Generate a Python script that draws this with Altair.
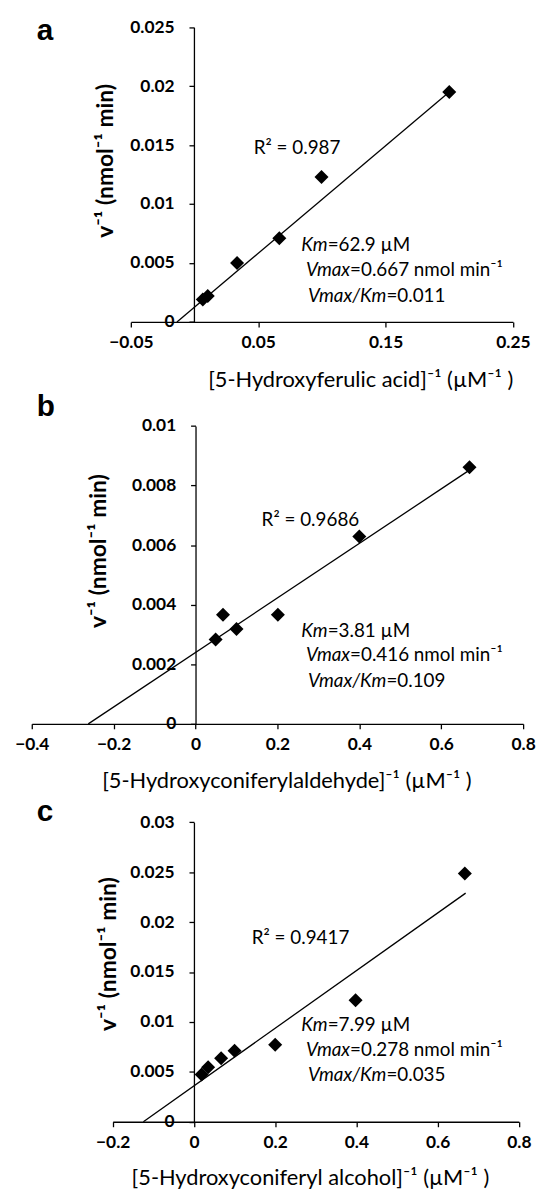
import altair as alt
import pandas as pd

# ---------------- data ----------------
# panel a : 5-hydroxyferulic acid
a_x = [0.0065, 0.0104, 0.0334, 0.0666, 0.0997, 0.2000]
a_y = [0.0019, 0.0022, 0.0050, 0.0071, 0.0123, 0.0195]
a_fit_x = [-0.0138, 0.2000]
a_fit_y = [0.0, 0.0195]
a_xticks = [-0.05, 0.05, 0.15, 0.25]
a_yticks = [0, 0.005, 0.01, 0.015, 0.02, 0.025]

# panel b : 5-hydroxyconiferylaldehyde
b_x = [0.049, 0.067, 0.100, 0.201, 0.400, 0.669]
b_y = [0.00283, 0.00366, 0.00318, 0.00366, 0.00629, 0.00861]
b_fit_x = [-0.262, 0.667]
b_fit_y = [0.0, 0.0085]
b_xticks = [-0.4, -0.2, 0, 0.2, 0.4, 0.6, 0.8]
b_yticks = [0, 0.002, 0.004, 0.006, 0.008, 0.01]

# panel c : 5-hydroxyconiferyl alcohol
c_x = [0.019, 0.035, 0.067, 0.100, 0.200, 0.398, 0.667]
c_y = [0.00473, 0.00546, 0.00635, 0.00711, 0.00771, 0.01217, 0.02487]
c_fit_x = [-0.1245, 0.669]
c_fit_y = [0.0, 0.0229]
c_xticks = [-0.2, 0, 0.2, 0.4, 0.6, 0.8]
c_yticks = [0, 0.005, 0.01, 0.015, 0.02, 0.025, 0.03]

letters = ["a", "b", "c"]
r2_labels = ["R\u00b2 = 0.987", "R\u00b2 = 0.9686", "R\u00b2 = 0.9417"]
km_vals = ["=62.9 \u00b5M", "=3.81 \u00b5M", "=7.99 \u00b5M"]
vmax_vals = ["=0.667 nmol min\u207b\u00b9", "=0.416 nmol min\u207b\u00b9", "=0.278 nmol min\u207b\u00b9"]
ratio_vals = ["=0.011", "=0.109", "=0.035"]
x_titles = [
    "[5-Hydroxyferulic acid]\u207b\u00b9  (\u00b5M\u207b\u00b9 )",
    "[5-Hydroxyconiferylaldehyde]\u207b\u00b9  (\u00b5M\u207b\u00b9 )",
    "[5-Hydroxyconiferyl alcohol]\u207b\u00b9 (\u00b5M\u207b\u00b9 )",
]
y_title = "v\u207b\u00b9 (nmol\u207b\u00b9 min)"

FONT = "Lato"
FS = 17.5      # tick labels
XTS = 22       # x axis titles
YTS = 23       # y axis titles
AS = 19        # annotations
W = 528
DUMMY = pd.DataFrame({"d": [0]})


def txt(text, x, y, align="left", style="normal", weight="normal",
        size=AS, font=FONT, baseline="alphabetic", angle=0):
    return alt.Chart(DUMMY).mark_text(
        text=text, align=align, baseline=baseline, font=font,
        fontSize=size, fontStyle=style, fontWeight=weight, color="black",
        angle=angle
    ).encode(x=alt.value(x), y=alt.value(y))


def axis(values, offset, pad, baseline=None):
    kw = dict(
        values=values, format=".3~f", title=None, offset=offset,
        grid=False, labelFlush=False, labelOverlap=False,
        labelPadding=pad,
        labelFont=FONT, labelFontSize=FS, labelFontWeight="bold",
        labelColor="black",
        tickSize=5, tickColor="black", tickWidth=1.3,
        domainColor="black", domainWidth=1.3,
    )
    if baseline:
        kw["labelBaseline"] = baseline
    return alt.Axis(**kw)


def panel(i, px, py, fx, fy, xticks, yticks, xdom, xrange, ydom, yrange,
          height, xoff, yoff, xtitle_pos, ytitle_pos,
          letter_y, r2_pos, km_y):
    pts = pd.DataFrame({"x": px, "y": py})
    fit = pd.DataFrame({"x": fx, "y": fy})
    xenc = alt.X(
        "x:Q",
        scale=alt.Scale(domain=xdom, range=xrange, nice=False, zero=False),
        axis=axis(xticks, xoff, 16, "middle"),
    )
    yenc = alt.Y(
        "y:Q",
        scale=alt.Scale(domain=ydom, range=yrange, nice=False, zero=False),
        axis=axis(yticks, yoff, 15),
    )
    line = alt.Chart(fit).mark_line(color="black", strokeWidth=1.3).encode(
        x=xenc, y=yenc)
    dots = alt.Chart(pts).mark_point(
        shape="diamond", filled=True, size=200, color="black", opacity=1
    ).encode(x=xenc, y=yenc)

    layers = [
        line, dots,
        txt(letters[i], 29, letter_y, weight="bold", size=30,
            font="Liberation Sans"),
        txt(x_titles[i], xtitle_pos[0], xtitle_pos[1], align="center",
            baseline="middle", size=XTS),
        txt(y_title, ytitle_pos[0], ytitle_pos[1], align="center",
            baseline="middle", size=YTS, weight="bold", angle=270),
        txt(r2_labels[i], r2_pos[0], r2_pos[1]),
        txt("Km", 322.7, km_y[0], align="right", style="italic"),
        txt(km_vals[i], 322.7, km_y[0]),
        txt("Vmax", 345.3, km_y[1], align="right", style="italic"),
        txt(vmax_vals[i], 345.3, km_y[1]),
        txt("Vmax/Km", 382, km_y[2], align="right", style="italic"),
        txt(ratio_vals[i], 382, km_y[2]),
    ]
    return alt.layer(*layers).properties(width=W, height=height)


pa = panel(0, a_x, a_y, a_fit_x, a_fit_y, a_xticks, a_yticks,
           [-0.05, 0.25], [124, 509.7], [0, 0.025], [311.3, 13.7],
           380, -68.7, -187.7, (356, 369.5), (98.7, 148.7),
           27, (248, 142), [239.3, 265.3, 291])
pb = panel(1, b_x, b_y, b_fit_x, b_fit_y, b_xticks, b_yticks,
           [-0.4, 0.8], [24, 520], [0, 0.01], [337, 36.3],
           402, -65, -189.3, (281.5, 395), (92, 162.7),
           26, (256, 137), [249.7, 273.7, 299.7])
pc = panel(2, c_x, c_y, c_fit_x, c_fit_y, c_xticks, c_yticks,
           [-0.2, 0.8], [105.7, 515.7], [0, 0.03], [336.7, 34.3],
           399, -62.3, -187.7, (305.3, 394), (102, 167.5),
           33, (246, 157.7), [245, 270, 295.7])

chart = alt.vconcat(pa, pb, pc, spacing=0, bounds="flush").properties(
    padding=0, background="white"
).configure_view(stroke=None)

chart.save("out.html", embed_options={"renderer": "svg", "actions": False})
